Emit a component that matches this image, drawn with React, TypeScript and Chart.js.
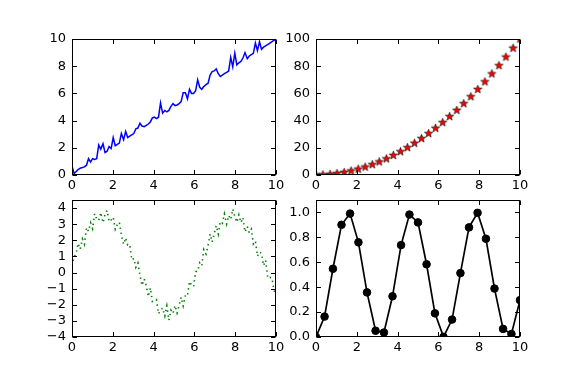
import React, { useEffect, useRef } from 'react';
import { Chart, registerables } from 'chart.js';
Chart.register(...registerables);

const W = 577;
const H = 385;

// shared x grid for the noisy panels (100 samples on 0..10)
const noiseX = [0, 0.10, 0.20, 0.30, 0.40, 0.51, 0.61, 0.71, 0.81, 0.91, 1.01, 1.11, 1.21, 1.31, 1.41, 1.52, 1.62, 1.72, 1.82, 1.92,
  2.02, 2.12, 2.22, 2.32, 2.42, 2.53, 2.63, 2.73, 2.83, 2.93, 3.03, 3.13, 3.23, 3.33, 3.43, 3.54, 3.64, 3.74, 3.84, 3.94,
  4.04, 4.14, 4.24, 4.34, 4.44, 4.55, 4.65, 4.75, 4.85, 4.95, 5.05, 5.15, 5.25, 5.35, 5.45, 5.56, 5.66, 5.76, 5.86, 5.96,
  6.06, 6.16, 6.26, 6.36, 6.46, 6.57, 6.67, 6.77, 6.87, 6.97, 7.07, 7.17, 7.27, 7.37, 7.47, 7.58, 7.68, 7.78, 7.88, 7.98,
  8.08, 8.18, 8.28, 8.38, 8.48, 8.59, 8.69, 8.79, 8.89, 8.99, 9.09, 9.19, 9.29, 9.39, 9.49, 9.60, 9.70, 9.80, 9.90, 10.0];

// top-left: noisy linear (blue)
const linearY = [0.66, 0.12, 0.25, 0.40, 0.50, 0.55, 0.60, 0.72, 1.20, 0.95, 1.20, 1.15, 1.20, 2.20, 1.90, 2.30, 1.65, 1.75, 2.10, 1.95,
  2.75, 2.15, 2.25, 2.35, 3.05, 2.60, 3.20, 2.75, 2.85, 2.95, 3.05, 3.40, 3.45, 3.80, 3.60, 3.55, 3.65, 3.75, 3.90, 4.20,
  4.25, 4.15, 4.25, 5.30, 4.55, 4.75, 4.65, 4.75, 5.05, 5.25, 5.10, 5.15, 5.25, 5.40, 6.05, 6.05, 5.60, 6.30, 6.00, 6.00,
  6.20, 7.00, 6.45, 6.30, 6.50, 6.65, 6.75, 7.35, 7.60, 7.65, 7.80, 7.45, 7.25, 7.35, 7.45, 7.55, 7.65, 8.65, 7.95, 8.95,
  8.10, 8.25, 8.35, 8.60, 9.00, 8.55, 8.75, 8.85, 8.95, 9.70, 9.15, 9.80, 9.25, 9.40, 9.50, 9.60, 9.70, 9.80, 9.90, 10.0];

// top-right: squares (red stars)
const squareX = [0, 0.34, 0.69, 1.03, 1.38, 1.72, 2.07, 2.41, 2.76, 3.10, 3.45, 3.79, 4.14, 4.48, 4.83,
  5.17, 5.52, 5.86, 6.21, 6.55, 6.90, 7.24, 7.59, 7.93, 8.28, 8.62, 8.97, 9.31, 9.66, 10.0];
const squareY = [0, 0.12, 0.48, 1.07, 1.90, 2.97, 4.28, 5.83, 7.61, 9.63, 11.89, 14.39, 17.12, 20.10, 23.31,
  26.75, 30.44, 34.36, 38.53, 42.93, 47.56, 52.44, 57.55, 62.90, 68.49, 74.32, 80.38, 86.68, 93.22, 100.0];

// bottom-left: noisy sine (green dotted)
const sineY = [0.42, 0.98, 1.15, 1.81, 1.45, 2.08, 1.76, 2.79, 2.56, 3.08, 2.72, 3.65, 3.33, 3.23, 3.73, 3.09, 3.61, 3.85, 3.15, 3.27,
  3.43, 2.68, 2.97, 3.12, 2.33, 1.75, 2.15, 1.70, 1.73, 0.78, 0.87, 0.32, 0.59, -0.16, -0.80, -0.40, -0.81, -1.49, -0.95, -1.80,
  -1.78, -1.69, -2.56, -2.34, -2.20, -2.70, -2.07, -2.96, -2.33, -2.54, -2.04, -2.51, -2.04, -1.53, -2.07, -1.40, -1.44, -0.56, -0.77, -0.88,
  0.06, 0.07, 0.60, 0.41, 1.43, 1.15, 1.68, 2.39, 1.89, 2.40, 2.91, 2.39, 3.16, 3.06, 3.64, 3.01, 3.54, 3.29, 3.94, 3.46,
  3.12, 3.58, 3.10, 3.41, 2.52, 2.86, 2.46, 2.69, 1.78, 1.96, 1.01, 1.27, 1.19, 0.43, 0.76, -0.35, -0.30, -0.33, -1.09, -1.40];

// bottom-right: sin^2 (black circles)
const waveX = [0, 0.42, 0.83, 1.25, 1.67, 2.08, 2.50, 2.92, 3.33, 3.75, 4.17, 4.58, 5.00,
  5.42, 5.83, 6.25, 6.67, 7.08, 7.50, 7.92, 8.33, 8.75, 9.17, 9.58, 10.0];
const waveY = [0, 0.164, 0.548, 0.901, 0.991, 0.760, 0.358, 0.050, 0.036, 0.327, 0.738, 0.983, 0.920,
  0.584, 0.190, 0.001, 0.140, 0.513, 0.880, 0.997, 0.789, 0.389, 0.065, 0.024, 0.296];

const xTickStep = 2;

function pts(xs: number[], ys: number[]) {
  return xs.map((x, i) => ({ x, y: ys[i] }));
}

function makeStar(): HTMLCanvasElement {
  const c = document.createElement('canvas');
  c.width = 11;
  c.height = 11;
  const g = c.getContext('2d')!;
  g.beginPath();
  for (let i = 0; i < 10; i++) {
    const r = i % 2 === 0 ? 4.4 : 1.8;
    const a = -Math.PI / 2 + (i * Math.PI) / 5;
    const px = 5.5 + r * Math.cos(a);
    const py = 5.5 + r * Math.sin(a);
    if (i === 0) g.moveTo(px, py);
    else g.lineTo(px, py);
  }
  g.closePath();
  g.fillStyle = '#ff0000';
  g.fill();
  g.lineWidth = 0.6;
  g.strokeStyle = '#000000';
  g.stroke();
  return c;
}

const frameTicks = {
  id: 'frameTicks',
  afterDatasetsDraw(chart: any) {
    const { ctx, chartArea: a, scales } = chart;
    const L = Math.round(a.left) + 0.5;
    const R = Math.round(a.right) - 0.5;
    const T = Math.round(a.top) + 0.5;
    const B = Math.round(a.bottom) - 0.5;
    const len = 4.5;
    ctx.save();
    ctx.strokeStyle = '#000';
    ctx.lineWidth = 1;
    ctx.beginPath();
    for (const t of scales.x.ticks) {
      const px = Math.round(scales.x.getPixelForValue(t.value)) + 0.5;
      ctx.moveTo(px, B);
      ctx.lineTo(px, B - len);
      ctx.moveTo(px, T);
      ctx.lineTo(px, T + len);
    }
    for (const t of scales.y.ticks) {
      const py = Math.round(scales.y.getPixelForValue(t.value)) + 0.5;
      ctx.moveTo(L, py);
      ctx.lineTo(L + len, py);
      ctx.moveTo(R, py);
      ctx.lineTo(R - len, py);
    }
    ctx.stroke();
    ctx.strokeRect(L, T, R - L, B - T);
    ctx.restore();
  },
};

type Area = { l: number; t: number; r: number; b: number };

function makeConfig(area: Area, yMin: number, yMax: number, yStep: number, fmt: (v: number) => string, datasets: any[]): any {
  const yW = 60;
  const xH = 30;
  return {
    type: 'line',
    data: { datasets },
    plugins: [frameTicks],
    options: {
      animation: false,
      responsive: false,
      devicePixelRatio: 1,
      events: [],
      layout: { padding: { left: area.l - yW, top: area.t, right: W - area.r, bottom: H - area.b - xH } },
      plugins: { legend: { display: false }, tooltip: { enabled: false } },
      scales: {
        x: {
          type: 'linear',
          min: 0,
          max: 10,
          afterFit: (s: any) => { s.height = xH; },
          grid: { display: false, drawTicks: false },
          border: { display: false },
          ticks: { stepSize: xTickStep, autoSkip: false, padding: 3, color: '#000', font: { size: 13 }, maxRotation: 0, callback: (v: number) => String(v) },
        },
        y: {
          type: 'linear',
          min: yMin,
          max: yMax,
          afterFit: (s: any) => { s.width = yW; },
          grid: { display: false, drawTicks: false },
          border: { display: false },
          ticks: { stepSize: yStep, autoSkip: false, includeBounds: false, padding: 6, color: '#000', font: { size: 13 }, callback: (v: number) => fmt(v) },
        },
      },
    },
  };
}

export default function App() {
  const r1 = useRef<HTMLCanvasElement>(null);
  const r2 = useRef<HTMLCanvasElement>(null);
  const r3 = useRef<HTMLCanvasElement>(null);
  const r4 = useRef<HTMLCanvasElement>(null);

  useEffect(() => {
    Chart.defaults.font.family = "'DejaVu Sans', sans-serif";
    Chart.defaults.font.size = 13;
    Chart.defaults.color = '#000';
    const star = makeStar();
    const charts: Chart[] = [];

    charts.push(new Chart(r1.current!, makeConfig({ l: 72, t: 39, r: 276, b: 175 }, 0, 10, 2, (v) => String(v), [
      { data: pts(noiseX, linearY), borderColor: '#0000ff', borderWidth: 1.5, pointRadius: 0, tension: 0, fill: false, clip: 0 },
    ])));

    charts.push(new Chart(r2.current!, makeConfig({ l: 316, t: 39, r: 520, b: 175 }, 0, 100, 20, (v) => String(v), [
      { data: pts(squareX, squareY), showLine: false, pointStyle: star, pointRadius: 4, borderColor: '#000', backgroundColor: '#ff0000', clip: 0 },
    ])));

    charts.push(new Chart(r3.current!, makeConfig({ l: 72, t: 200, r: 276, b: 337 }, -4, 4.5, 1, (v) => (v < 0 ? '\u2212' + String(-v) : String(v)), [
      { data: pts(noiseX, sineY), borderColor: '#008000', borderWidth: 1.6, borderDash: [1.4, 3.6], pointRadius: 0, tension: 0, fill: false, clip: 0 },
    ])));

    charts.push(new Chart(r4.current!, makeConfig({ l: 316, t: 200, r: 520, b: 337 }, 0, 1.1, 0.2, (v) => v.toFixed(1), [
      { data: pts(waveX, waveY), borderColor: '#000', borderWidth: 1.7, pointRadius: 3.8, pointBorderWidth: 1, pointBackgroundColor: '#000', pointBorderColor: '#000', tension: 0, fill: false, clip: 0 },
    ])));

    return () => { charts.forEach((c) => c.destroy()); };
  }, []);

  const cs: React.CSSProperties = { position: 'absolute', left: 0, top: 0, width: W, height: H };
  return (
    <div style={{ position: 'fixed', left: 0, top: 0, width: W, height: H, background: '#fff' }}>
      <canvas ref={r1} width={W} height={H} style={cs} />
      <canvas ref={r2} width={W} height={H} style={cs} />
      <canvas ref={r3} width={W} height={H} style={cs} />
      <canvas ref={r4} width={W} height={H} style={cs} />
    </div>
  );
}
